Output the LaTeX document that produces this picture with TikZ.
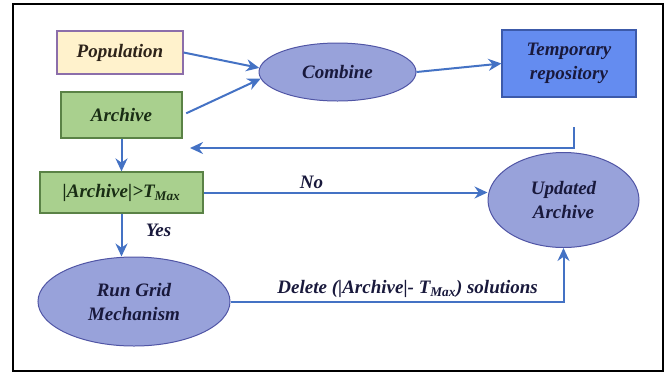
\documentclass[tikz,border=0pt]{standalone}
\usepackage{fontspec}
\setmainfont{Liberation Serif}
\usepackage{tikz}
\usetikzlibrary{
  arrows.meta,
  positioning,
  shapes.geometric
}
\definecolor{popfill}{RGB}{255,242,204}
\definecolor{popline}{RGB}{140,110,170}
\definecolor{arcfill}{RGB}{169,208,142}
\definecolor{arcline}{RGB}{90,130,70}
\definecolor{tmpfill}{RGB}{100,140,240}
\definecolor{tmpline}{RGB}{60,90,170}
\definecolor{ovfill}{RGB}{152,162,218}
\definecolor{ovline}{RGB}{80,85,165}
\definecolor{flowblue}{RGB}{68,114,196}
\definecolor{inkblue}{RGB}{25,25,60}
\definecolor{inkgreen}{RGB}{25,45,20}
\definecolor{inkbrown}{RGB}{45,35,25}
\tikzset{
  lbl/.style={font=\fontsize{19bp}{24bp}\selectfont\bfseries\itshape, text=inkblue},
  popbox/.style={draw=popline, fill=popfill, line width=1.2pt,
    minimum width=126bp, minimum height=43bp, inner sep=0pt,
    align=center, lbl, text=inkbrown},
  arcbox/.style={draw=arcline, fill=arcfill, line width=1.2pt,
    minimum width=121bp, minimum height=46bp, inner sep=0pt,
    align=center, lbl, text=inkgreen},
  tmpbox/.style={draw=tmpline, fill=tmpfill, line width=1.2pt,
    minimum width=134bp, minimum height=67bp, inner sep=0pt,
    align=center, lbl},
  oval/.style={ellipse, draw=ovline, fill=ovfill, line width=1pt,
    inner sep=0pt, align=center, lbl},
  arr/.style={-{Stealth[length=13bp, width=12bp]}, flowblue, line width=2bp},
}

\begin{document}
\begin{tikzpicture}[x=1bp, y=-1bp]
  \useasboundingbox (0,0) rectangle (672,374);
  \draw[line width=2.5bp] (13,4) rectangle (663,371);

  \node[popbox] (pop) at (120,52.5) {Population};
  \node[arcbox] (arch) at (121.5,115) {Archive};
  \node[oval, minimum width=157bp, minimum height=58bp] (comb) at (337.5,72) {Combine};
  \node[tmpbox] (tmp) at (569,63.5) {Temporary\\repository};
  \node[arcbox, minimum width=163bp, minimum height=41bp] (cond) at (121.5,192.5)
    {|Archive|>T\textsubscript{Max}};
  \node[oval, minimum width=151bp, minimum height=95bp] (upd) at (563.5,200) {Updated\\Archive};
  \node[oval, minimum width=192bp, minimum height=89bp] (run) at (134,301.5) {Run Grid\\Mechanism};

  % back to the archive
  \coordinate (fbtop) at (574,127);
  \coordinate (fbend) at (190,148);

  \draw[arr] (pop.east) -- (comb.177);
  \draw[arr, shorten <=4bp] (arch.east) -- (comb.185);
  \draw[arr] (comb.east) -- (tmp.west);
  \draw[arr] (fbtop) |- (fbend);
  \draw[arr] (arch.south) -- (cond.north);
  \draw[arr] (cond.east) -- (cond.east -| upd.west)
    node[pos=0.38, above, lbl] (nolbl) {No};
  \draw[arr] (cond.south) -- (cond.south |- run.north)
    node[pos=0.4, right=20bp, lbl] (yeslbl) {Yes};
  \draw[arr] (run.east) -| (upd.south)
    node[pos=0.266, above, lbl] (dellbl) {Delete (|Archive|- T\textsubscript{Max}) solutions};
\end{tikzpicture}
\end{document}
